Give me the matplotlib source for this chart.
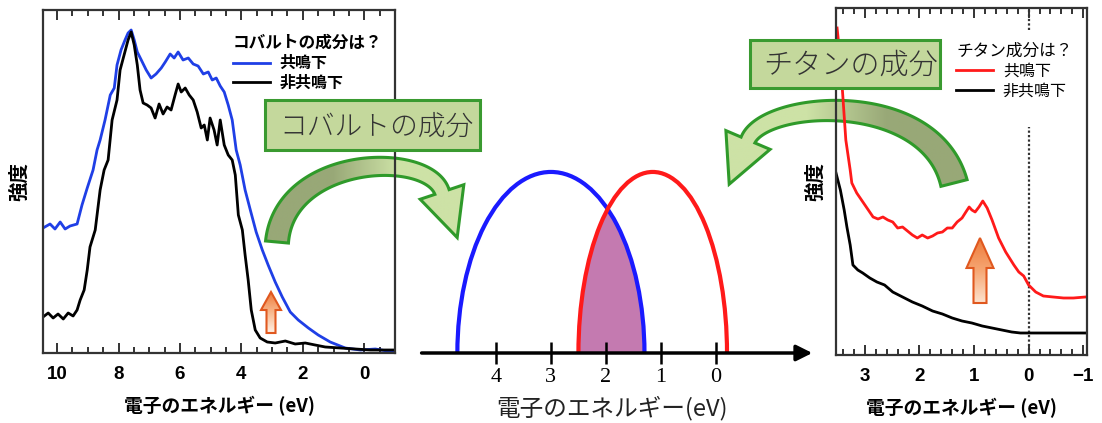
import numpy as np
import matplotlib
matplotlib.use("Agg")
import matplotlib.pyplot as plt
from matplotlib.patches import Rectangle, Polygon, Ellipse
from matplotlib.colors import LinearSegmentedColormap
from matplotlib.ticker import MultipleLocator

plt.rcParams['font.family'] = ['Noto Sans CJK JP', 'DejaVu Sans']

# ---- left panel: cobalt component (eV, intensity a.u.)
co_res_x = [10.46, 10.23, 10.07, 9.90, 9.74, 9.58, 9.35, 9.19, 9.02, 8.83, 8.70, 8.60, 8.44, 8.27,
            8.14, 8.05, 7.92, 7.79, 7.69, 7.59, 7.49, 7.39, 7.26, 7.10, 6.94, 6.78, 6.61, 6.48,
            6.32, 6.19, 6.06, 5.90, 5.73, 5.57, 5.41, 5.24, 5.08, 4.95, 4.82, 4.69, 4.56, 4.43,
            4.30, 4.17, 4.04, 3.88, 3.71, 3.52, 3.32, 3.13, 2.90, 2.67, 2.41, 2.15, 1.82, 1.50,
            1.11, 0.62, 0.13, -0.36, -0.94]
co_res_y = [125, 129, 124, 131, 124, 127, 129, 148, 165, 183, 203, 213, 233, 258,
            265, 288, 303, 313, 320, 323, 313, 301, 293, 283, 275, 279, 285, 291,
            299, 295, 301, 293, 295, 289, 287, 279, 281, 273, 275, 267, 261, 248,
            233, 203, 188, 163, 143, 121, 103, 88, 71, 56, 41, 33, 25, 18,
            11, 5, 3, 4, 1]
co_off_x = [10.46, 10.29, 10.13, 9.97, 9.80, 9.64, 9.48, 9.35, 9.25, 9.12, 9.02, 8.93, 8.76, 8.60,
            8.47, 8.34, 8.21, 8.05, 7.95, 7.82, 7.69, 7.59, 7.49, 7.39, 7.30, 7.20, 7.07, 6.94,
            6.81, 6.68, 6.55, 6.42, 6.29, 6.16, 6.06, 5.96, 5.83, 5.70, 5.57, 5.44, 5.31, 5.21,
            5.11, 5.02, 4.89, 4.79, 4.69, 4.56, 4.43, 4.30, 4.20, 4.10, 3.97, 3.88, 3.78, 3.68,
            3.55, 3.39, 3.16, 2.90, 2.57, 2.25, 1.92, 1.60, 1.27, 0.78, 0.29, -0.20, -0.94]
co_off_y = [36, 40, 35, 39, 34, 40, 37, 43, 53, 63, 83, 106, 123, 163,
            183, 193, 233, 253, 283, 298, 313, 321, 308, 288, 263, 250, 248, 245,
            235, 249, 239, 246, 243, 258, 269, 261, 265, 258, 253, 241, 225, 228,
            213, 235, 223, 208, 233, 208, 198, 193, 178, 138, 123, 98, 73, 43,
            23, 15, 11, 10, 12, 9, 10, 8, 6, 5, 4, 3, 3]

# ---- right panel: titanium component
ti_res_x = [3.51, 3.45, 3.40, 3.35, 3.27, 3.24, 3.15, 3.00, 2.85, 2.76, 2.67, 2.58, 2.49, 2.40,
            2.31, 2.22, 2.13, 2.04, 1.95, 1.85, 1.76, 1.67, 1.58, 1.49, 1.40, 1.31, 1.22, 1.15,
            1.09, 1.04, 0.98, 0.91, 0.84, 0.76, 0.67, 0.55, 0.42, 0.27, 0.18, 0.09, 0.00, -0.13,
            -0.27, -0.45, -0.64, -0.82, -1.04]
ti_res_y = [327, 295, 255, 215, 185, 172, 162, 150, 138, 136, 138, 135, 133, 127,
            128, 124, 120, 117, 120, 117, 119, 122, 123, 127, 127, 133, 137, 143,
            148, 145, 143, 148, 154, 147, 135, 117, 103, 90, 83, 79, 70, 63,
            59, 58, 57, 57, 58]
ti_off_x = [3.53, 3.45, 3.38, 3.33, 3.27, 3.22, 3.13, 3.04, 2.91, 2.78, 2.64, 2.49, 2.31, 2.13,
            1.95, 1.76, 1.58, 1.40, 1.22, 1.04, 0.85, 0.67, 0.49, 0.31, 0.15, 0.00, -1.04]
ti_off_y = [182, 165, 145, 128, 110, 90, 85, 82, 77, 73, 70, 63, 58, 53,
            49, 44, 41, 37, 34, 32, 29, 27, 25, 23, 22, 22, 22]

# ---- middle schematic: two bands (center, half width) on the energy axis
band_center = [3.0, 1.15]
band_halfwidth = [1.7, 1.35]
mid_ticks = [4, 3, 2, 1, 0]

W, H = 1102, 423


def box(l, t, r, b):
    return [l / W, 1 - b / H, (r - l) / W, (b - t) / H]


def bezier_band(p, w0, w1, hw, hl, n=120):
    # outline of a (curved) arrow following a cubic bezier
    p = np.array(p, float)
    t = np.linspace(0, 1, n)[:, None]
    c = (1-t)**3*p[0] + 3*(1-t)**2*t*p[1] + 3*(1-t)*t**2*p[2] + t**3*p[3]
    d = 3*(1-t)**2*(p[1]-p[0]) + 6*(1-t)*t*(p[2]-p[1]) + 3*t**2*(p[3]-p[2])
    d /= np.linalg.norm(d, axis=1, keepdims=True)
    nrm = np.column_stack([-d[:, 1], d[:, 0]])
    w = (w0 + (w1 - w0) * t) / 2
    a = c + nrm * w
    b = c - nrm * w
    end, de, ne = c[-1], d[-1], nrm[-1]
    return np.vstack([a, end + ne * hw / 2, end + de * hl, end - ne * hw / 2, b[::-1]])


def gradient_arrow(ax, pts, colors, vertical, ec, lw):
    poly = Polygon(pts, closed=True, fill=False, ec=ec, lw=lw, joinstyle='miter', zorder=3)
    ax.add_patch(poly)
    x0, y0 = pts.min(axis=0)
    x1, y1 = pts.max(axis=0)
    cmap = LinearSegmentedColormap.from_list('g', colors)
    g = np.linspace(0, 1, 256)
    img = g[:, None] if vertical else g[None, :]
    im = ax.imshow(img, cmap=cmap, extent=(x0, x1, y1, y0), aspect='auto',
                   interpolation='bilinear', zorder=2)
    im.set_clip_path(poly)


fig = plt.figure(figsize=(11.02, 4.23), dpi=100)

# decorations behind the panels
bg = fig.add_axes([0, 0, 1, 1], zorder=0)
dark, light = '#98a877', '#cde2a6'
gradient_arrow(bg, bezier_band([(277, 242), (285, 155), (428, 150), (442, 192)], 23, 15, 46, 48),
               [dark, dark, light, light], False, '#2f9a2a', 2.2)
gradient_arrow(bg, bezier_band([(954, 183), (930, 89), (765, 100), (748, 140)], 27, 15, 48, 48),
               [light, light, dark, dark], False, '#2f9a2a', 2.2)
gradient_arrow(bg, bezier_band([(271, 333), (271, 325), (271, 318), (271, 310)], 9, 9, 20, 18),
               ['#ee7a3a', '#f8b98e', '#fff1e6'], True, '#e0581f', 1.5)
gradient_arrow(bg, bezier_band([(980, 303), (980, 290), (980, 280), (980, 268)], 13, 13, 27, 30),
               ['#ee7a3a', '#f6a774', '#fde3cf'], True, '#e0581f', 1.5)
bg.set_xlim(0, W)
bg.set_ylim(H, 0)
bg.axis('off')

# ---- left panel
axL = fig.add_axes(box(43, 10, 395, 353), zorder=1)
axL.patch.set_alpha(0)
axL.plot(co_res_x, co_res_y, color='#1f3fe6', lw=2, label='共鳴下')
axL.plot(co_off_x, co_off_y, color='black', lw=2, label='非共鳴下')
axL.set_xlim(10.46, -1.0)
axL.set_ylim(0, 343)
axL.xaxis.set_major_locator(MultipleLocator(2))
axL.xaxis.set_minor_locator(MultipleLocator(0.5))
axL.set_xlabel('電子のエネルギー (eV)', fontsize=13.5, fontweight='bold', labelpad=10)
axL.set_ylabel('強度', fontsize=14, fontweight='bold', labelpad=10)
axL.legend(title='コバルトの成分は？', loc='upper left', bbox_to_anchor=(0.54, 0.93),
           frameon=False, prop=dict(weight='bold', size=11.5),
           title_fontproperties=dict(weight='bold', size=12), alignment='left',
           handlelength=2.3, handletextpad=0.6, labelspacing=0.2, borderpad=0, borderaxespad=0)

# ---- right panel
axR = fig.add_axes(box(836, 8, 1087, 355), zorder=1)
axR.patch.set_alpha(0)
axR.axvline(0, ymin=0, ymax=0.657, color='#333333', lw=1.6, ls=(0, (1, 1)))
axR.axvline(0, ymin=0.937, ymax=1, color='#333333', lw=1.6, ls=(0, (1, 1)))
axR.plot(ti_res_x, ti_res_y, color='#ff1a1a', lw=2, label='共鳴下')
axR.plot(ti_off_x, ti_off_y, color='black', lw=2, label='非共鳴下')
axR.set_xlim(3.53, -1.07)
axR.set_ylim(0, 347)
axR.xaxis.set_major_locator(MultipleLocator(1))
axR.xaxis.set_minor_locator(MultipleLocator(0.2))
axR.set_xticks([3, 2, 1, 0, -1], ['3', '2', '1', '0', '−1'])
axR.set_xlabel('電子のエネルギー (eV)', fontsize=13.5, fontweight='bold', labelpad=10)
axR.set_ylabel('強度', fontsize=14, fontweight='bold', labelpad=8)
axR.legend(title='チタン成分は？', loc='upper left', bbox_to_anchor=(0.48, 0.9),
           frameon=False, prop=dict(size=11.5), title_fontproperties=dict(size=12),
           alignment='left', handlelength=2.3, handletextpad=0.6, labelspacing=0.2,
           borderpad=0, borderaxespad=0)

for ax in (axL, axR):
    ax.set_yticks([])
    for s in ax.spines.values():
        s.set_linewidth(1.6)
        s.set_color('#333333')
    ax.tick_params(axis='x', which='both', direction='in', top=True, bottom=True,
                   width=1.4, color='#333333', pad=9)
    ax.tick_params(axis='x', which='major', length=7)
    ax.tick_params(axis='x', which='minor', length=4)
    for lbl in ax.get_xticklabels():
        lbl.set_fontfamily(['Liberation Sans', 'DejaVu Sans'])
        lbl.set_fontweight('bold')
        lbl.set_fontsize(13.5)

# ---- middle schematic
mid = fig.add_axes(box(415, 160, 820, 353), zorder=1)
mid.patch.set_alpha(0)
mid.set_xlim(5.47, -1.89)
mid.set_ylim(0, 1.066)
for s in mid.spines.values():
    s.set_visible(False)
mid.set_yticks([])
blue = Ellipse((band_center[0], 0), 2 * band_halfwidth[0], 2.0, fill=False, ec='#1a1aff', lw=3, zorder=3)
red = Ellipse((band_center[1], 0), 2 * band_halfwidth[1], 2.0, fill=False, ec='#ff1a1a', lw=3, zorder=3)
overlap = Ellipse((band_center[1], 0), 2 * band_halfwidth[1], 2.0, fc='#c47ab0', ec='none', zorder=1)
mid.add_patch(blue)
mid.add_patch(red)
mid.add_patch(overlap)
overlap.set_clip_path(blue)
mid.annotate('', xy=(-1.75, 0), xytext=(5.35, 0), annotation_clip=False,
             arrowprops=dict(arrowstyle='-|>', lw=2.5, color='black', mutation_scale=24,
                             shrinkA=0, shrinkB=0))
mid.set_xticks(mid_ticks, [str(v) for v in mid_ticks])
mid.tick_params(axis='x', direction='inout', length=16, width=1.8, labelsize=16, pad=3)
for lbl in mid.get_xticklabels():
    lbl.set_fontfamily(['Liberation Serif', 'DejaVu Serif'])

# ---- boxes and labels on top
fg = fig.add_axes([0, 0, 1, 1], zorder=3)
fg.set_xlim(0, W)
fg.set_ylim(H, 0)
fg.axis('off')
fg.add_patch(Rectangle((265, 100), 215, 50, fc='#c4d89c', ec='#3a9a30', lw=2.2))
fg.text(279, 127, 'コバルトの成分', fontsize=20, color='#333333', fontweight='light',
        ha='left', va='center')
fg.add_patch(Rectangle((750, 40), 190, 48, fc='#c4d89c', ec='#3a9a30', lw=2.2))
fg.text(763, 65, 'チタンの成分', fontsize=21, color='#333333', fontweight='light',
        ha='left', va='center')
fg.text(612, 408, '電子のエネルギー(eV)', fontsize=17, color='#222222',
        ha='center', va='center')

fig.savefig('out.png', dpi=100)
